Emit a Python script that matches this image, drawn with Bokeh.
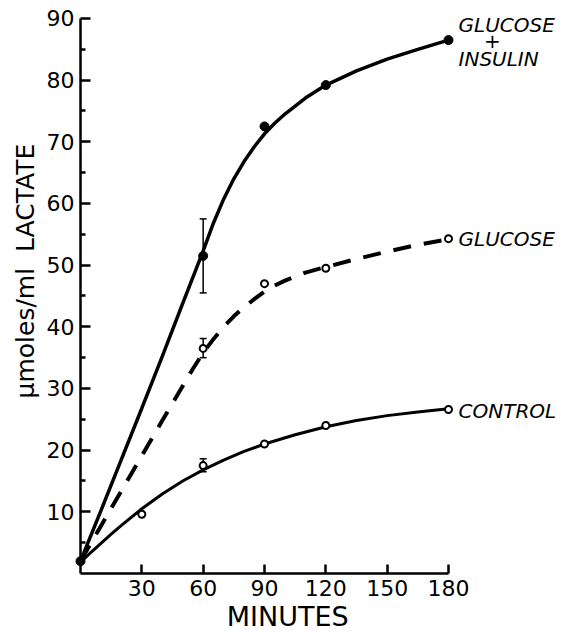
from bokeh.plotting import figure
from bokeh.models import Range1d, FixedTicker, Label
from bokeh.embed import file_html
from bokeh.resources import INLINE

# ---- data ----
minutes_gi = [0, 60, 90, 120, 180]
lactate_gi = [2.0, 51.5, 72.5, 79.2, 86.5]

minutes_g = [60, 90, 120, 180]
lactate_g = [36.5, 47.0, 49.5, 54.3]

minutes_c = [30, 60, 90, 120, 180]
lactate_c = [9.6, 17.5, 21.0, 24.0, 26.6]

err_minutes = [60, 60, 60]
err_low = [45.5, 35.0, 16.5]
err_high = [57.5, 38.1, 18.6]

# hand-drawn fitted curves
curve_t_gi = [0, 10, 20, 30, 40, 50, 60, 65, 70, 75, 80, 85, 90, 95, 100, 110, 120, 135, 150, 165, 180]
curve_gi = [2.0, 10.2, 18.5, 26.8, 35.2, 43.8, 52.3, 56.8, 60.7, 64.0, 66.8, 69.2, 71.3, 73.0, 74.5, 77.1, 79.2, 81.5, 83.4, 85.0, 86.5]

curve_t_g = [0, 10, 20, 30, 40, 50, 55, 60, 65, 70, 75, 80, 85, 90, 95, 100, 110, 120, 135, 150, 165, 180]
curve_g = [2.0, 7.7, 13.4, 19.1, 24.8, 30.4, 33.2, 35.8, 38.0, 40.0, 41.7, 43.2, 44.5, 45.7, 46.7, 47.5, 48.8, 49.7, 51.0, 52.2, 53.3, 54.2]

curve_t_c = [0, 5, 10, 15, 20, 30, 40, 50, 60, 70, 80, 90, 105, 120, 135, 150, 165, 180]
curve_c = [1.8, 3.4, 4.9, 6.4, 7.8, 10.5, 12.9, 15.0, 16.8, 18.4, 19.8, 21.0, 22.5, 23.8, 24.8, 25.6, 26.2, 26.7]

x_ticks = [30, 60, 90, 120, 150, 180]
y_ticks = [10, 20, 30, 40, 50, 60, 70, 80, 90]
y_minor = [5, 15, 25, 35, 45, 55, 65, 75, 85]

FONT = "DejaVu Sans"
NB = "\u00a0"

p = figure(width=563, height=634,
           x_range=Range1d(0, 236.25), y_range=Range1d(0, 91.62),
           output_backend="svg", toolbar_location=None,
           min_border_left=80, min_border_right=0,
           min_border_top=8, min_border_bottom=61)
p.outline_line_color = None
p.xgrid.visible = False
p.ygrid.visible = False
p.background_fill_color = "white"
p.border_fill_color = "white"

# axes
p.xaxis.ticker = FixedTicker(ticks=x_ticks, minor_ticks=[])
p.yaxis.ticker = FixedTicker(ticks=y_ticks, minor_ticks=y_minor)
p.xaxis.bounds = (0, 180)
p.yaxis.bounds = (0, 90)
for ax in (p.xaxis, p.yaxis):
    ax.axis_line_width = 2.5
    ax.axis_line_color = "black"
    ax.major_tick_line_width = 2.5
    ax.major_tick_line_color = "black"
    ax.major_tick_out = 0
    ax.minor_tick_out = 0
    ax.major_label_text_font = FONT
    ax.major_label_text_font_size = "22px"
    ax.major_label_text_color = "black"
    ax.axis_label_text_font = FONT
    ax.axis_label_text_font_style = "normal"
    ax.axis_label_text_color = "black"
p.xaxis.major_tick_in = 9
p.xaxis.minor_tick_line_color = None
p.yaxis.major_tick_in = 10
p.yaxis.minor_tick_in = 5
p.yaxis.minor_tick_line_width = 2.5
p.yaxis.minor_tick_line_color = "black"
p.xaxis.major_label_standoff = 6
p.yaxis.major_label_standoff = 6

# axis titles (non-breaking spaces shift the titles along the axes as in the reference)
p.xaxis.axis_label = "MINUTES" + NB * 8
p.xaxis.axis_label_text_font_size = "27px"
p.xaxis.axis_label_standoff = 2
p.yaxis.axis_label = NB * 5 + "\u00b5moles/ml" + NB * 2 + "LACTATE"
p.yaxis.axis_label_text_font_size = "25px"
p.yaxis.axis_label_standoff = 4

# curves
p.line(curve_t_gi, curve_gi, line_color="black", line_width=3.5)
p.line(curve_t_g, curve_g, line_color="black", line_width=4, line_dash="18 13")
p.line(curve_t_c, curve_c, line_color="black", line_width=3)

# error bars
p.segment(err_minutes, err_low, err_minutes, err_high, line_color="black", line_width=1.5, level="overlay")
p.scatter(err_minutes, err_low, marker="dash", size=7, line_color="black", line_width=1.5, level="overlay")
p.scatter(err_minutes, err_high, marker="dash", size=7, line_color="black", line_width=1.5, level="overlay")

# markers
p.scatter(minutes_gi, lactate_gi, marker="circle", size=9, fill_color="black", line_color="black", level="overlay")
p.scatter(minutes_g, lactate_g, marker="circle", size=7, fill_color="white", line_color="black", line_width=2, level="overlay")
p.scatter(minutes_c, lactate_c, marker="circle", size=7, fill_color="white", line_color="black", line_width=2, level="overlay")

# series labels
def add_label(x, y, text, align="left"):
    p.add_layout(Label(x=x, y=y, text=text, text_font=FONT, text_font_size="20px",
                       text_font_style="italic", text_align=align, text_baseline="middle",
                       text_color="black"))

add_label(184.9, 89.0, "GLUCOSE")
add_label(201.5, 86.3, "+", align="center")
add_label(184.9, 83.5, "INSULIN")
add_label(184.9, 54.3, "GLUCOSE")
add_label(184.9, 26.4, "CONTROL")

open("out.html", "w").write(file_html(p, INLINE))
